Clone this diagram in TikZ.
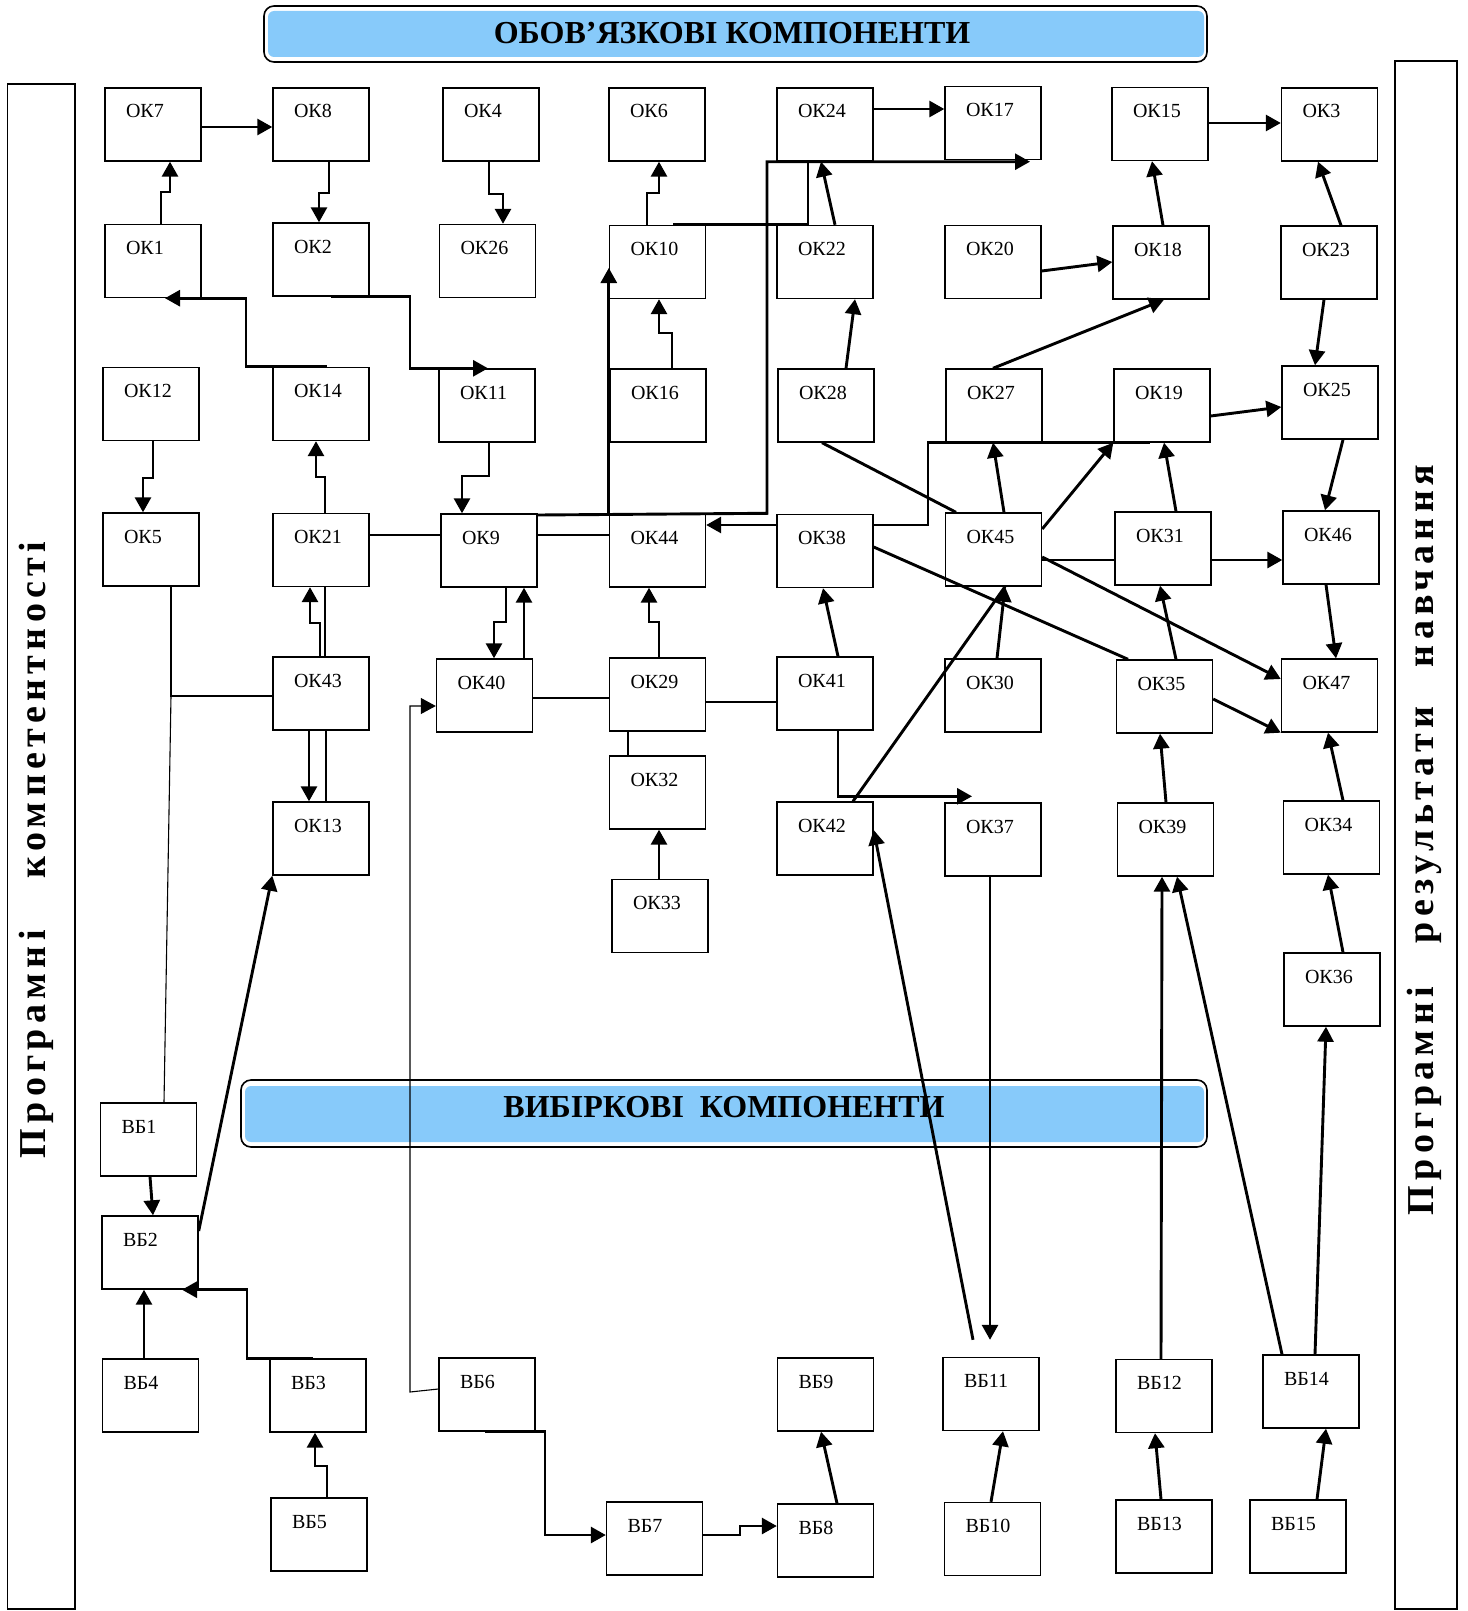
\documentclass[tikz,border=0pt]{standalone}
\usepackage{fontspec}
\setmainfont{Liberation Serif}
\newfontfamily\sidefont{Liberation Serif}[LetterSpace=14]
\usepackage{tikz}
\usetikzlibrary{positioning,calc}
\usetikzlibrary{arrows.meta}
\definecolor{hdblue}{RGB}{135,202,250}
\tikzset{
  ok/.style={rectangle, draw=black, line width=0.7pt, minimum width=48pt, minimum height=36.5pt, text width=27pt, inner xsep=10.5pt, inner ysep=3pt, text height=12pt, text depth=18.5pt, align=left, font=\fontsize{10}{12}\selectfont},
  hd/.style={draw=black, line width=0.8pt, rounded corners=5pt},
  hdfill/.style={fill=hdblue, rounded corners=3pt},
  hdtext/.style={anchor=base, font=\fontsize{16}{19}\selectfont\bfseries},
  side/.style={rotate=90, font=\sidefont\fontsize{19}{22}\selectfont\bfseries},
  ln/.style={line width=1.45pt},
  tl/.style={line width=0.55pt},
  >={Triangle[length=7.5pt,width=8pt]}
}

\begin{document}
\begin{tikzpicture}[x=0.5pt,y=-0.5pt]
	\useasboundingbox (0,0) rectangle (1467,1611);

	\draw[hd] (264,6) rectangle (1207,62);
	\fill[hdfill] (268,11) rectangle (1204,57);
	\node[hdtext] (oblig) at (732,44) {ОБОВ’ЯЗКОВІ КОМПОНЕНТИ};
	\draw[hd] (241,1080) rectangle (1207,1147);
	\fill[hdfill] (245,1086) rectangle (1204,1142);
	\node[hdtext] (vybir) at (724,1117) {ВИБІРКОВІ~~КОМПОНЕНТИ};

	\draw[line width=0.8pt] (7.5,84) rectangle (75,1609);
	\draw[line width=0.8pt] (1395,61) rectangle (1457,1609);
	\node[side] (komp) at (36,850) {Програмні\hspace{26pt}компетентності};
	\node[side] (rezult) at (1424,840) {Програмні\hspace{22pt}результати\hspace{20pt}навчання};

	\node[ok] (ok7) at (153,124.5) {ОК7};
	\node[ok] (ok8) at (321,124.5) {ОК8};
	\node[ok] (ok4) at (491,124.5) {ОК4};
	\node[ok] (ok6) at (657,124.5) {ОК6};
	\node[ok] (ok24) at (825,124.5) {ОК24};
	\node[ok] (ok17) at (993,123) {ОК17};
	\node[ok] (ok15) at (1160,124) {ОК15};
	\node[ok] (ok3) at (1329.5,124.5) {ОК3};

	\node[ok] (ok1) at (153,261) {ОК1};
	\node[ok] (ok2) at (321,259.5) {ОК2};
	\node[ok] (ok26) at (487.5,261) {ОК26};
	\node[ok] (ok10) at (657.5,262) {ОК10};
	\node[ok] (ok22) at (825,262) {ОК22};
	\node[ok] (ok20) at (993,262) {ОК20};
	\node[ok] (ok18) at (1161,262.5) {ОК18};
	\node[ok] (ok23) at (1329,262.5) {ОК23};

	\node[ok] (ok12) at (151,404) {ОК12};
	\node[ok] (ok14) at (321,404) {ОК14};
	\node[ok] (ok11) at (487,405.5) {ОК11};
	\node[ok] (ok16) at (658,405.5) {ОК16};
	\node[ok] (ok28) at (826,405.5) {ОК28};
	\node[ok] (ok27) at (994,405.5) {ОК27};
	\node[ok] (ok19) at (1162,405.5) {ОК19};
	\node[ok] (ok25) at (1330,402.5) {ОК25};

	\node[ok] (ok5) at (151,549.5) {ОК5};
	\node[ok] (ok21) at (321,550) {ОК21};
	\node[ok] (ok9) at (489,550.5) {ОК9};
	\node[ok] (ok44) at (657.5,550.5) {ОК44};
	\node[ok] (ok38) at (825,551) {ОК38};
	\node[ok] (ok45) at (993.5,549.5) {ОК45};
	\node[ok] (ok31) at (1163,548.5) {ОК31};
	\node[ok] (ok46) at (1331,547.5) {ОК46};

	\node[ok] (ok43) at (321,693.5) {ОК43};
	\node[ok] (ok40) at (484.5,695.5) {ОК40};
	\node[ok] (ok29) at (657.5,694.5) {ОК29};
	\node[ok] (ok41) at (825,693.5) {ОК41};
	\node[ok] (ok30) at (993,695.5) {ОК30};
	\node[ok] (ok35) at (1164.5,696.5) {ОК35};
	\node[ok] (ok47) at (1329.5,695.5) {ОК47};

	\node[ok] (ok32) at (657.5,792.5) {ОК32};
	\node[ok] (ok13) at (321,838.5) {ОК13};
	\node[ok] (ok42) at (825,838.5) {ОК42};
	\node[ok] (ok37) at (993,839.5) {ОК37};
	\node[ok] (ok39) at (1165.5,839.5) {ОК39};
	\node[ok] (ok34) at (1331.5,837.5) {ОК34};
	\node[ok] (ok33) at (660,916) {ОК33};
	\node[ok] (ok36) at (1332,989.5) {ОК36};

	\node[ok] (vb1) at (148.5,1139.5) {ВБ1};
	\node[ok] (vb2) at (150,1252.5) {ВБ2};
	\node[ok] (vb4) at (150.5,1395.5) {ВБ4};
	\node[ok] (vb3) at (318,1395.5) {ВБ3};
	\node[ok] (vb6) at (487,1394.5) {ВБ6};
	\node[ok] (vb9) at (825.5,1394.5) {ВБ9};
	\node[ok] (vb11) at (991,1394) {ВБ11};
	\node[ok] (vb12) at (1164,1396) {ВБ12};
	\node[ok] (vb14) at (1311,1391.5) {ВБ14};
	\node[ok] (vb5) at (319,1534.5) {ВБ5};
	\node[ok] (vb7) at (654.5,1538.5) {ВБ7};
	\node[ok] (vb8) at (825.5,1540.5) {ВБ8};
	\node[ok] (vb10) at (992.5,1539) {ВБ10};
	\node[ok] (vb13) at (1164,1536.5) {ВБ13};
	\node[ok] (vb15) at (1298,1536.5) {ВБ15};

	\draw[ln,->] (ok7.east |- 0,127) -- (ok8.west |- 0,127);
	\draw[ln,->] (ok1.north -| 161,0) |- (170,192) -- (ok7.south -| 170,0);
	\draw[ln,->] (ok8.south -| 329,0) |- (319,193) -- (ok2.north -| 319,0);
	\draw[ln,->] (ok4.south -| 489,0) |- (503,194) -- (ok26.north -| 503,0);
	\draw[ln,->] (ok14.north -| 327,0) -| (ok1.south -| 246,0) -- (ok1.south -| 165,0);
	\draw[ln,->] (ok2.south -| 331,0) -| (ok11.north -| 410,0) -- (ok11.north -| 488,0);
	\draw[ln,->] (ok10.north -| 647,0) |- (659,193) -- (ok6.south -| 659,0);
	\draw[ln,->] (ok16.north -| 672,0) |- (659,333) -- (ok10.south -| 659,0);
	\draw[ln,->] (ok24.east |- 0,109) -- (ok17.west |- 0,109);
	\draw[ln,->] (ok22.north -| 835,0) -- (ok24.south -| 821,0);
	\draw[ln,->] (ok28.north -| 846,0) -- (ok22.south -| 855,0);
	\draw[ln] (ok10.north -| 673,0) -| (ok24.south -| 808,0);
	\draw[ln,->] (ok9.east |- 0,515) -- (ok44.north -| 767,0) |- (ok24.south -| 1030,0);
	\draw[ln,->] (ok44.north west) -- (ok10.west |- 0,268);
	\draw[ln] (ok9.east |- 0,535) -- (ok44.west |- 0,535);
	\draw[ln] (ok21.east |- 0,535) -- (ok9.west |- 0,535);
	\draw[ln,->] (ok12.south -| 153,0) |- (143,478) -- (ok5.north -| 143,0);
	\draw[ln,->] (ok21.north -| 325,0) |- (316,477) -- (ok14.south -| 316,0);
	\draw[ln,->] (ok11.south -| 489,0) |- (462,476) -- (ok9.north -| 462,0);
	\draw[ln,->] (ok9.south -| 506,0) |- (494,622) -- (ok40.north -| 494,0);
	\draw[ln,->] (ok40.north -| 524,0) -- (ok9.south -| 524,0);
	\draw[ln,->] (ok43.north -| 320,0) |- (310,623) -- (ok21.south -| 310,0);
	\draw[ln] (ok43.north -| 325,0) -- (ok21.south -| 325,0);
	\draw[ln,->] (ok43.south -| 309,0) -- (ok13.north -| 309,0);
	\draw[ln] (ok43.south -| 326,0) -- (ok13.north -| 326,0);
	\draw[ln] (ok5.south -| 171,0) |- coordinate (j5) (ok43.west |- 0,696);
	\draw[tl] (j5) -- (vb1.north -| 164,0);
	\draw[tl,->] (vb6.west |- 0,1389) -- (410,1392) |- (ok40.west |- 0,706);
	\draw[ln] (ok40.east |- 0,698) -- (ok29.west |- 0,698);
	\draw[ln] (ok29.east |- 0,702) -- (ok41.west |- 0,702);
	\draw[ln] (ok29.south -| 628,0) -- (ok32.north -| 628,0);
	\draw[ln,->] (ok33.north -| 659,0) -- (ok32.south -| 659,0);
	\draw[ln,->] (ok29.north -| 659,0) |- (649,622) -- (ok44.south -| 649,0);
	\draw[ln,->] (ok41.north -| 838,0) -- (ok38.south -| 823,0);
	\draw[ln,->] (ok41.south -| 838,0) |- ($(ok37.north -| 972,0)+(0,-6)$);
	\draw[ln] (ok42.north -| 853,0) -- (ok45.south -| 1005,0);
	\draw[ln,->] (ok30.north -| 997,0) -- (ok45.south -| 1005,0);
	\draw[ln,->] (ok38.west |- 0,525) -- (ok44.east |- 0,525);
	\draw[ln] (ok38.east |- 0,525) -| (ok27.south -| 928,0) -- (ok19.south -| 1150,0);
	\draw[ln] (ok28.south -| 822,0) -- (ok45.north -| 956,0);
	\draw[ln,->] (ok45.north -| 1004,0) -- (ok27.south -| 993,0);
	\draw[ln,->] (ok27.north -| 993,0) -- (ok18.south -| 1164,0);
	\draw[ln,->] (ok20.east |- 0,271) -- (ok18.west |- 0,262);
	\draw[ln,->] (ok18.north -| 1163,0) -- (ok15.south -| 1152,0);
	\draw[ln,->] (ok15.east |- 0,123) -- (ok3.west |- 0,123);
	\draw[ln,->] (ok23.north -| 1341,0) -- (ok3.south -| 1318,0);
	\draw[ln,->] (ok23.south -| 1324,0) -- (ok25.north -| 1315,0);
	\draw[ln,->] (ok19.east |- 0,416) -- (ok25.west |- 0,407);
	\draw[ln,->] (ok25.south -| 1343,0) -- (ok46.north -| 1325,0);
	\draw[ln,->] (ok31.north -| 1176,0) -- (ok19.south -| 1164,0);
	\draw[ln,->] (ok45.east |- 0,529) -- (ok19.south west);
	\draw[ln] (ok45.east |- 0,560) -- (ok31.west |- 0,560);
	\draw[ln,->] (ok31.east |- 0,560) -- (ok46.west |- 0,560);
	\draw[ln,->] (ok45.east |- 0,557) -- (ok47.west |- 0,679);
	\draw[ln] (ok38.east |- 0,547) -- (ok35.north -| 1128,0);
	\draw[ln,->] (ok35.north -| 1176,0) -- (ok31.south -| 1160,0);
	\draw[ln,->] (ok46.south -| 1326,0) -- (ok47.north -| 1336,0);
	\draw[ln,->] (ok35.east |- 0,699) -- (ok47.south west);
	\draw[ln,->] (ok39.north -| 1166,0) -- (ok35.south -| 1160,0);
	\draw[ln,->] (ok34.north -| 1343,0) -- (ok47.south -| 1328,0);
	\draw[ln,->] (ok36.north -| 1343,0) -- (ok34.south -| 1328,0);
	\draw[ln,->] (ok37.south -| 990,0) -- ($(vb11.north -| 990,0)+(0,-17)$);
	\draw[ln,->] ($(vb11.north -| 973,0)+(0,-17)$) -- (ok42.east |- 0,830);
	\draw[ln,->] (vb12.north -| 1161,0) -- (ok39.south -| 1162,0);
	\draw[ln,->] (vb14.north -| 1282,0) -- (ok39.south -| 1177,0);
	\draw[ln,->] (vb14.north -| 1315,0) -- (ok36.south -| 1326,0);
	\draw[ln,->] (vb1.south -| 150,0) -- (vb2.north -| 153,0);
	\draw[ln,->] (vb2.east |- 0,1231) -- (ok13.south west);
	\draw[ln,->] (vb4.north -| 144,0) -- (vb2.south -| 144,0);
	\draw[ln,->] (vb3.north -| 313,0) -| (vb2.south -| 247,0) -- (vb2.south -| 182,0);
	\draw[ln,->] (vb5.north -| 327,0) |- (315,1466) -- (vb3.south -| 315,0);
	\draw[ln,->] (vb6.south -| 485,0) -| (545,1535) -- (vb7.west |- 0,1535);
	\draw[ln,->] (vb7.east |- 0,1535) -- (740,1535) |- (vb8.west |- 0,1526);
	\draw[ln,->] (vb8.north -| 837,0) -- (vb9.south -| 821,0);
	\draw[ln,->] (vb10.north -| 991,0) -- (vb11.south -| 1003,0);
	\draw[ln,->] (vb13.north -| 1161,0) -- (vb12.south -| 1155,0);
	\draw[ln,->] (vb15.north -| 1317,0) -- (vb14.south -| 1326,0);
\end{tikzpicture}
\end{document}
